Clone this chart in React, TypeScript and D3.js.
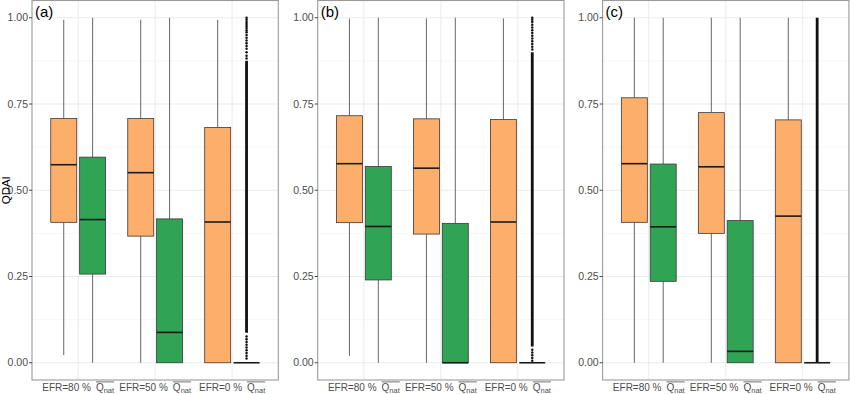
import React from 'react';
import * as d3 from 'd3';

// ---------- data ----------
const panelLabels = ['(a)', '(b)', '(c)'];
const categories = ['EFR=80 %', 'EFR=50 %', 'EFR=0 %'];
const series = ['EFR', 'Qnat'];
const yTicks = [0, 0.25, 0.5, 0.75, 1.0];
const yMinorTicks = [0.125, 0.375, 0.625, 0.875];

// box stats per category: [lower whisker, q1, median, q3, upper whisker]
const efrStatsA = [
  [0.022, 0.407, 0.574, 0.708, 0.994],
  [0.0, 0.367, 0.551, 0.708, 0.994],
  [0.0, 0.0, 0.408, 0.682, 0.994],
];
const qnatStatsA = [
  [0.0, 0.257, 0.415, 0.596, 1.0],
  [0.0, 0.0, 0.088, 0.417, 1.0],
  [0.0, 0.0, 0.0, 0.0, 0.0],
];
const efrStatsB = [
  [0.02, 0.406, 0.577, 0.716, 0.998],
  [0.0, 0.373, 0.564, 0.707, 0.998],
  [0.0, 0.0, 0.408, 0.705, 0.998],
];
const qnatStatsB = [
  [0.0, 0.24, 0.395, 0.569, 1.0],
  [0.0, 0.0, 0.0, 0.404, 1.0],
  [0.0, 0.0, 0.0, 0.0, 0.0],
];
const efrStatsC = [
  [0.0, 0.407, 0.577, 0.768, 1.0],
  [0.0, 0.375, 0.568, 0.725, 1.0],
  [0.0, 0.0, 0.425, 0.704, 1.0],
];
const qnatStatsC = [
  [0.0, 0.236, 0.394, 0.576, 1.0],
  [0.0, 0.0, 0.033, 0.412, 1.0],
  [0.0, 0.0, 0.0, 0.0, 0.0],
];

// Qnat outliers at EFR=0 %: dense (continuous) range and sparse individual points
const denseOutliersA = [0.087, 0.875];
const sparseOutliersA = [
  0.012, 0.02, 0.028, 0.036, 0.044, 0.052, 0.06, 0.068, 0.076,
  0.882, 0.89, 0.9, 0.91, 0.918, 0.926, 0.934, 0.942, 0.95, 0.958, 0.964, 0.97, 0.976, 0.982, 0.988, 0.994, 1.0,
];
const denseOutliersB = [0.047, 0.9];
const sparseOutliersB = [
  0.006, 0.014, 0.022, 0.03, 0.038,
  0.908, 0.916, 0.924, 0.932, 0.94, 0.948, 0.956, 0.964, 0.972, 0.98, 0.988, 0.994, 1.0,
];
const denseOutliersC = [0.0, 1.0];
const sparseOutliersC: number[] = [];

const efrStats = [efrStatsA, efrStatsB, efrStatsC];
const qnatStats = [qnatStatsA, qnatStatsB, qnatStatsC];
const denseOutliers = [denseOutliersA, denseOutliersB, denseOutliersC];
const sparseOutliers = [sparseOutliersA, sparseOutliersB, sparseOutliersC];

// ---------- layout / style ----------
const W = 850;
const H = 394;
const FONT = '"Liberation Sans", Arial, Helvetica, sans-serif';
const panelLefts = [32, 317.7, 602.6];
const panelWidth = 246.3;
const plotTop = 0.5;
const plotBottom = 380;
const fillColors: Record<string, string> = { EFR: '#FDAE6B', Qnat: '#31A354' };

let ctx: CanvasRenderingContext2D | null = null;
function measure(text: string, size: number) {
  if (!ctx) ctx = document.createElement('canvas').getContext('2d');
  if (!ctx) return text.length * size * 0.55;
  ctx.font = `${size}px "Liberation Sans"`;
  return ctx.measureText(text).width;
}

const y = d3.scaleLinear().domain([-0.05, 1.05]).range([plotBottom, plotTop]);

function XLabel({ cx, text }: { cx: number; text: string }) {
  const fs = 10;
  const subFs = 7.5;
  const gap = 5;
  const w1 = measure(text, fs);
  const wQ = measure('Q', fs);
  const wSub = measure('nat', subFs);
  const total = w1 + gap + wQ + wSub;
  const x0 = cx - total / 2;
  const base = 391.3;
  const xq = x0 + w1 + gap;
  return (
    <g fill="#4D4D4D" fontFamily={FONT} fontStyle="normal">
      <text x={x0} y={base} fontSize={fs}>{text}</text>
      <text x={xq} y={base} fontSize={fs}>Q</text>
      <text x={xq + wQ} y={base + 2} fontSize={subFs}>nat</text>
      <line x1={xq} x2={x0 + total} y1={base - 9.4} y2={base - 9.4} stroke="#4D4D4D" strokeWidth={0.8} />
    </g>
  );
}

function Box({ cx, w, s, fill }: { cx: number; w: number; s: number[]; fill: string }) {
  const [lo, q1, med, q3, hi] = s;
  const x0 = cx - w / 2;
  return (
    <g>
      {hi > q3 && <line x1={cx} x2={cx} y1={y(q3)} y2={y(hi)} stroke="#555" strokeWidth={0.9} />}
      {lo < q1 && <line x1={cx} x2={cx} y1={y(q1)} y2={y(lo)} stroke="#555" strokeWidth={0.9} />}
      {q3 > q1 && (
        <rect x={x0} y={y(q3)} width={w} height={y(q1) - y(q3)} fill={fill} stroke="#3a3a3a" strokeWidth={0.8} />
      )}
      <line x1={x0} x2={x0 + w} y1={y(med)} y2={y(med)} stroke="#1a1a1a" strokeWidth={1.6} />
    </g>
  );
}

function Panel({ idx }: { idx: number }) {
  const left = panelLefts[idx];
  const right = left + panelWidth;
  const x = d3.scalePoint<string>().domain(categories).range([left, right]).padding(0.6);
  const step = x.step();
  const dodge = d3.scaleBand<string>().domain(series).range([-0.375 * step, 0.375 * step]);
  const bw = dodge.bandwidth() * 0.9;
  const lastCat = categories[categories.length - 1];
  const outX = (x(lastCat) as number) + (dodge('Qnat') as number) + dodge.bandwidth() / 2;
  const dense = denseOutliers[idx];
  return (
    <g>
      {/* grid */}
      {yMinorTicks.map((t) => (
        <line key={'m' + t} x1={left} x2={right} y1={y(t)} y2={y(t)} stroke="#F3F3F3" strokeWidth={0.6} />
      ))}
      {yTicks.map((t) => (
        <line key={'M' + t} x1={left} x2={right} y1={y(t)} y2={y(t)} stroke="#EBEBEB" strokeWidth={1} />
      ))}
      {categories.map((c) => (
        <line key={'v' + c} x1={x(c)} x2={x(c)} y1={plotTop} y2={plotBottom} stroke="#EBEBEB" strokeWidth={1} />
      ))}
      {/* boxes */}
      {categories.map((c, ci) => {
        const cx = x(c) as number;
        return (
          <g key={c}>
            {series.map((sName) => {
              const stats = sName === 'EFR' ? efrStats[idx][ci] : qnatStats[idx][ci];
              const bx = cx + (dodge(sName) as number) + dodge.bandwidth() / 2;
              return <Box key={sName} cx={bx} w={bw} s={stats} fill={fillColors[sName]} />;
            })}
          </g>
        );
      })}
      {/* outliers */}
      <rect x={outX - 1.4} width={2.8} y={y(dense[1])} height={y(dense[0]) - y(dense[1])} fill="#111" />
      {sparseOutliers[idx].map((v, i) => (
        <circle key={i} cx={outX} cy={y(v)} r={1.25} fill="#111" />
      ))}
      {/* border */}
      <rect x={left} y={plotTop} width={panelWidth} height={plotBottom - plotTop} fill="none" stroke="#9a9a9a" strokeWidth={1.1} />
      {/* y axis */}
      {yTicks.map((t) => (
        <g key={'t' + t}>
          <line x1={left - 3} x2={left} y1={y(t)} y2={y(t)} stroke="#333" strokeWidth={0.9} />
          <text x={left - 4} y={y(t) + 3.7} fontSize={10.5} textAnchor="end" fill="#4D4D4D" fontFamily={FONT}>
            {t.toFixed(2)}
          </text>
        </g>
      ))}
      {/* x labels */}
      {categories.map((c) => (
        <XLabel key={'xl' + c} cx={x(c) as number} text={c} />
      ))}
      {/* panel tag */}
      <text x={left + 3} y={17} fontSize={15} fill="#000" fontFamily={FONT}>{panelLabels[idx]}</text>
    </g>
  );
}

export default function App() {
  return (
    <div style={{ position: 'absolute', left: 0, top: 0 }}>
      <svg width={W} height={H} style={{ display: 'block', background: '#fff' }}>
        <rect width={W} height={H} fill="#fff" />
        {panelLabels.map((_, i) => (
          <Panel key={i} idx={i} />
        ))}
        <text
          transform={`translate(10,${(plotTop + plotBottom) / 2}) rotate(-90)`}
          textAnchor="middle"
          fontSize={11.5}
          fill="#000"
          fontFamily={FONT}
        >
          QDAI
        </text>
      </svg>
    </div>
  );
}
